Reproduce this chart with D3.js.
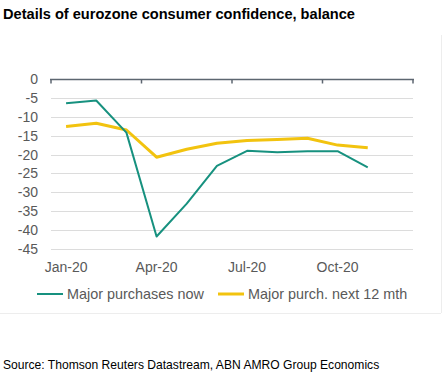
<!DOCTYPE html>
<html>
<head>
<meta charset="utf-8">
<script src="https://cdn.jsdelivr.net/npm/d3@7"></script>
<style>
  body { margin: 0; background: #fff; }
  svg text { font-family: "Liberation Sans", Arial, sans-serif; }
</style>
</head>
<body>
<div id="chart"></div>
<script>
document.addEventListener('DOMContentLoaded', function() {
    // --- data ---
    const months = ["Jan-20", "Feb-20", "Mar-20", "Apr-20", "May-20", "Jun-20",
                    "Jul-20", "Aug-20", "Sep-20", "Oct-20", "Nov-20", "Dec-20"];
    const purchasesNow = [-6.4, -5.7, -14.2, -41.7, -33.0, -23.0, -19.0, -19.4, -19.1, -19.1, -23.4];
    const purchasesNext = [-12.6, -11.7, -13.5, -20.7, -18.6, -17.0, -16.3, -16.0, -15.7, -17.5, -18.2];
    const yTicks = [0, -5, -10, -15, -20, -25, -30, -35, -40, -45];
    const xLabels = ["Jan-20", "Apr-20", "Jul-20", "Oct-20"];
    const seriesNames = ["Major purchases now", "Major purch. next 12 mth"];
    const colors = ["#17917f", "#f2c30f"];

    const W = 444, H = 380;
    const svg = d3.select("#chart").append("svg")
        .attr("width", W).attr("height", H);

    // title
    svg.append("text")
        .attr("x", 3).attr("y", 19)
        .attr("font-size", 14.6).attr("font-weight", "bold").attr("fill", "#000")
        .text("Details of eurozone consumer confidence, balance");

    // faint frame lines
    svg.append("line").attr("x1", 0).attr("x2", 441).attr("y1", 313.5).attr("y2", 313.5)
        .attr("stroke", "#ededed");
    svg.append("line").attr("x1", 441.5).attr("x2", 441.5).attr("y1", 35).attr("y2", 313)
        .attr("stroke", "#ededed");

    // scales
    const x = d3.scaleBand().domain(months).range([51, 413]).paddingInner(0).paddingOuter(0);
    const y = d3.scaleLinear().domain([-45, 0]).range([249, 79]);
    const cx = m => x(m) + x.bandwidth() / 2;

    // gridlines
    svg.append("g").selectAll("line")
        .data(yTicks.filter(d => d !== 0))
        .enter().append("line")
        .attr("x1", 51).attr("x2", 413)
        .attr("y1", d => Math.round(y(d)) + 0.5).attr("y2", d => Math.round(y(d)) + 0.5)
        .attr("stroke", "#dcdcdc").attr("stroke-width", 1);

    // y labels
    svg.append("g").selectAll("text")
        .data(yTicks)
        .enter().append("text")
        .attr("x", 38).attr("y", d => y(d))
        .attr("dy", "0.36em")
        .attr("text-anchor", "end")
        .attr("font-size", 14).attr("fill", "#595959")
        .text(d => d);

    // top axis line at zero with ticks pointing down
    const axisY = Math.round(y(0)) + 0.5;
    const tickPos = months.filter((m, i) => i % 3 === 0).map(m => x(m)).concat([x.range()[1]]);
    svg.append("line").attr("x1", 50).attr("x2", 414)
        .attr("y1", axisY).attr("y2", axisY)
        .attr("stroke", "#5d6670").attr("stroke-width", 1.5);
    svg.append("g").selectAll("line")
        .data(tickPos)
        .enter().append("line")
        .attr("x1", d => d).attr("x2", d => d)
        .attr("y1", axisY).attr("y2", axisY + 4)
        .attr("stroke", "#5d6670").attr("stroke-width", 1.5);

    // x labels at bottom
    svg.append("g").selectAll("text")
        .data(xLabels)
        .enter().append("text")
        .attr("x", d => cx(d)).attr("y", 267)
        .attr("dy", "0.36em")
        .attr("text-anchor", "middle")
        .attr("font-size", 14).attr("fill", "#595959")
        .text(d => d);

    // lines
    const line = d3.line().x((d, i) => cx(months[i])).y(d => y(d));
    svg.append("path").datum(purchasesNext)
        .attr("fill", "none").attr("stroke", colors[1]).attr("stroke-width", 3)
        .attr("stroke-linejoin", "round").attr("d", line);
    svg.append("path").datum(purchasesNow)
        .attr("fill", "none").attr("stroke", colors[0]).attr("stroke-width", 2)
        .attr("stroke-linejoin", "round").attr("d", line);

    // legend
    const legendX = [37, 218];
    seriesNames.forEach((name, i) => {
        const g = svg.append("g").attr("transform", `translate(${legendX[i]},294)`);
        g.append("line").attr("x1", 0).attr("x2", 26).attr("y1", 0).attr("y2", 0)
            .attr("stroke", colors[i]).attr("stroke-width", i === 0 ? 2 : 3);
        g.append("text").attr("x", 30).attr("y", 0).attr("dy", "0.36em")
            .attr("font-size", 14.4).attr("fill", "#595959").text(name);
    });

    // source
    svg.append("text")
        .attr("x", 3).attr("y", 369)
        .attr("font-size", 12.1).attr("fill", "#000")
        .text("Source: Thomson Reuters Datastream, ABN AMRO Group Economics");
});
</script>
</body>
</html>
